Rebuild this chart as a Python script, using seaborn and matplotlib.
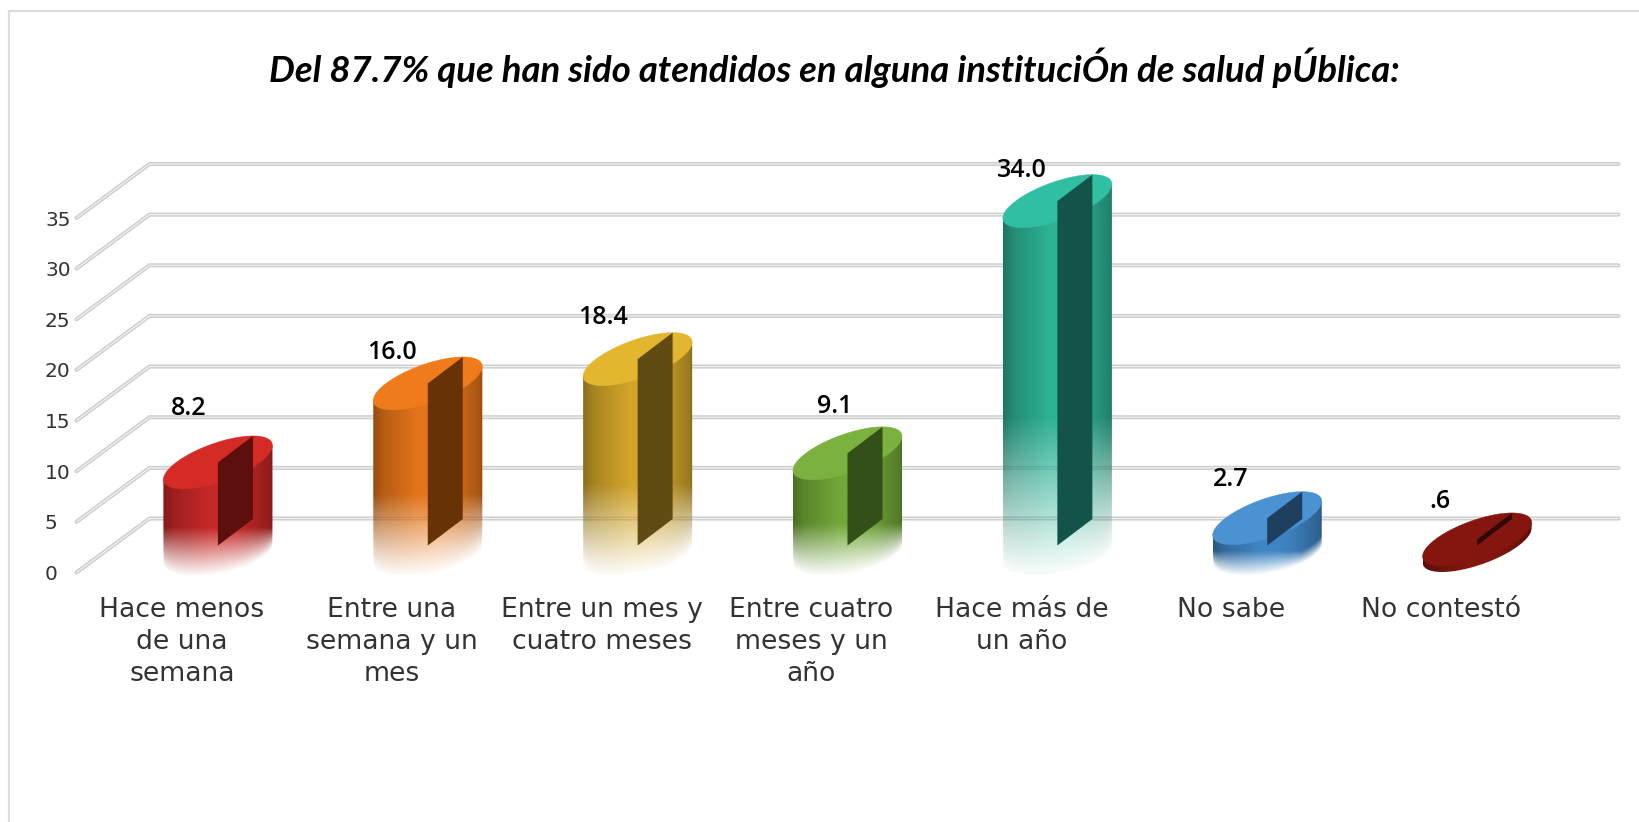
import numpy as np
import pandas as pd
import seaborn as sns
import matplotlib
matplotlib.use("Agg")
import matplotlib.pyplot as plt
from matplotlib.lines import Line2D
from matplotlib.path import Path
from matplotlib.transforms import Affine2D

# ---------- data ----------
categories = ["Hace menos\nde una\nsemana", "Entre una\nsemana y un\nmes", "Entre un mes y\ncuatro meses",
              "Entre cuatro\nmeses y un\naño", "Hace más de\nun año", "No sabe", "No contestó"]
values = [8.2, 16.0, 18.4, 9.1, 34.0, 2.7, 0.6]
value_labels = ["8.2", "16.0", "18.4", "9.1", "34.0", "2.7", ".6"]
y_ticks = [0, 5, 10, 15, 20, 25, 30, 35]
title_text = "Del 87.7% que han sido atendidos en alguna instituciÓn de salud pÚblica:"

# ---------- colours ----------
body_colors = ["#C62826", "#E5751A", "#D2A529", "#72A838", "#2DB294", "#3F85C4", "#85160F"]
top_colors = ["#D42B27", "#F07B1B", "#E2B72F", "#7AB13F", "#30BFA2", "#4A92D2", "#85160F"]
panel_colors = ["#5C0F0D", "#683207", "#5F4B13", "#344F17", "#14534A", "#1E3F5E", "#300806"]

# ---------- layout (pixels) ----------
W, H = 1640, 822
AX_L, AX_R = 113, 1582
AX_B, AX_T = 545.5, 191
label_nudge_x = [-29, -36, -35, -13, -35, -37, -37]
label_nudge_y = [54, 31, 42, 47, 31, 39, 38]

sns.set_theme(style="white")
plt.rcParams["font.family"] = ["DejaVu Sans"]

fig = plt.figure(figsize=(W / 100, H / 100), dpi=100, facecolor="white")
ax = fig.add_axes([AX_L / W, 1 - AX_B / H, (AX_R - AX_L) / W, (AX_B - AX_T) / H])
ax.patch.set_alpha(0)

df = pd.DataFrame({"cat": categories, "val": values})
sns.barplot(data=df, x="cat", y="val", hue="cat", palette=body_colors, legend=False,
            width=0.522, ax=ax, saturation=1, zorder=2)
ax.set_xlim(-0.5, 6.5)
ax.set_ylim(0, 35)
ax.set_xlabel("")
ax.set_ylabel("")
sns.despine(ax=ax, left=True, bottom=True, right=True, top=True)

px_x = (AX_R - AX_L) / 7
px_y = (AX_B - AX_T) / 35
depth_x = 36.5 / px_x      # half depth of the 3D floor, data units
depth_y = 27 / px_y
half_w = 41.8 / px_x       # ellipse parameters
rim_x = 35 / px_x
rim_y = 26.5 / px_y


def ellipse(cx, cy, t):
    return (cx + half_w * np.cos(t) + rim_x * np.sin(t), cy + rim_y * np.sin(t))


# ---------- back wall grid ----------
for v in y_ticks:
    xs = [-0.5 - depth_x, -0.5 + depth_x, 6.5 + depth_x]
    ys = [v - depth_y, v + depth_y, v + depth_y]
    ax.plot(xs, ys, color="#CDCDCD", lw=2.9, solid_capstyle="round", solid_joinstyle="round",
            clip_on=False, zorder=0.5)
    ax.plot(xs, ys, color="#F4F4F4", lw=0.8, solid_capstyle="round", solid_joinstyle="round",
            clip_on=False, zorder=0.6)

# ---------- cylinders ----------
t = np.linspace(0, 2 * np.pi, 200)
for i, (bar, v) in enumerate(zip(ax.patches, values)):
    rgba = matplotlib.colors.to_rgba(body_colors[i])
    bar.set_facecolor(rgba[:3] + (0.0,))
    bar.set_edgecolor("none")
    cx = bar.get_x() + bar.get_width() / 2
    half = np.hypot(half_w, rim_x)

    # contour of the lower edge of the cylinder
    t_left = np.arctan2(-rim_x, -half_w)
    t_sweep = np.linspace(t_left, t_left + np.pi, 120)
    bx, by = ellipse(cx, 0, t_sweep)
    order = np.argsort(bx)

    low = -rim_y * 1.12
    high = v + rim_y
    n_r, n_c = 400, 160
    ys = np.linspace(high, low, n_r)
    xs_img = np.linspace(cx - half, cx + half, n_c)
    us = np.linspace(0, 1, n_c)
    shade = np.interp(us, [0, 0.1, 0.42, 0.62, 0.75, 0.97, 1], [0.66, 0.8, 1.0, 1.0, 0.92, 0.74, 0.64])
    fade_top = low + 0.42 * (v - low)
    edge = np.interp(xs_img, bx[order], by[order])
    if v >= 1:
        edge = edge - 15 / px_y * us          # the soft foot hangs lower on the right
    top_local = np.maximum(fade_top, edge + 1.2)
    s = (ys[:, None] - edge[None, :]) / (top_local - edge)[None, :]
    alpha = np.interp(s, [0, 0.12, 1.0], [0.03, 0.14, 1.0])
    if v < 1:
        alpha = np.ones_like(s)
    img = np.zeros((n_r, n_c, 4))
    for k in range(3):
        img[:, :, k] = rgba[k] * shade[None, :]
    img[:, :, 3] = alpha
    im = ax.imshow(img, extent=[cx - half, cx + half, low, high], aspect="auto", zorder=3,
                   interpolation="bilinear")
    body_x = np.r_[xs_img, [xs_img[-1], xs_img[0]], xs_img[0]]
    body_y = np.r_[edge, [v + by[-1], v + by[0]], edge[0]]
    im.set_clip_path(Path(np.column_stack([body_x, body_y])), transform=ax.transData)
    im.set_clip_box(fig.bbox)

    ex, ey = ellipse(cx, v, t)
    ax.fill(ex, ey, color=top_colors[i], lw=0.3, zorder=4, clip_on=False)
    ax.fill([cx, cx + rim_x, cx + rim_x, cx], [0, rim_y, v + rim_y, v],
            color=panel_colors[i], lw=0, zorder=5, clip_on=False)

    ax.annotate(value_labels[i], (cx, v), xytext=(label_nudge_x[i] * 0.72, label_nudge_y[i] * 0.72),
                textcoords="offset points", ha="center", va="center", fontsize=18,
                family="Open Sans", fontweight=600, color="black", zorder=6, annotation_clip=False)

ax.set_xlim(-0.5, 6.5)
ax.set_ylim(0, 35)

# ---------- ticks (labels sit on the front plane of the 3D floor) ----------
ax.set_yticks(y_ticks)
ax.set_yticklabels([str(v) for v in y_ticks])
ax.tick_params(axis="y", length=0, pad=49, labelsize=14.5, labelcolor="#333333")
ax.tick_params(axis="x", length=0, pad=37, labelsize=19.2, labelcolor="#333333")
ax.set_xticks(range(len(categories)))
ax.set_xticklabels(categories, linespacing=1.3)
for lab in ax.get_yticklabels():
    lab.set_ha("left")
    lab.set_transform(lab.get_transform() + Affine2D().translate(0, -27))
for lab in ax.get_xticklabels():
    lab.set_transform(lab.get_transform() + Affine2D().translate(-36, 0))

# ---------- title ----------
fig.text(834 / W, 1 - 68 / H, title_text, ha="center", va="center", fontsize=26.3,
         family="Lato", fontweight="bold", fontstyle="italic", color="black")

# ---------- chart frame ----------
frame = dict(color="#DCDCDC", lw=1.6, transform=fig.transFigure)
fig.add_artist(Line2D([8.5 / W, 8.5 / W], [0, 1 - 11 / H], **frame))
fig.add_artist(Line2D([8.5 / W, 1], [1 - 11 / H, 1 - 11 / H], **frame))

fig.savefig("out.png", dpi=100)
